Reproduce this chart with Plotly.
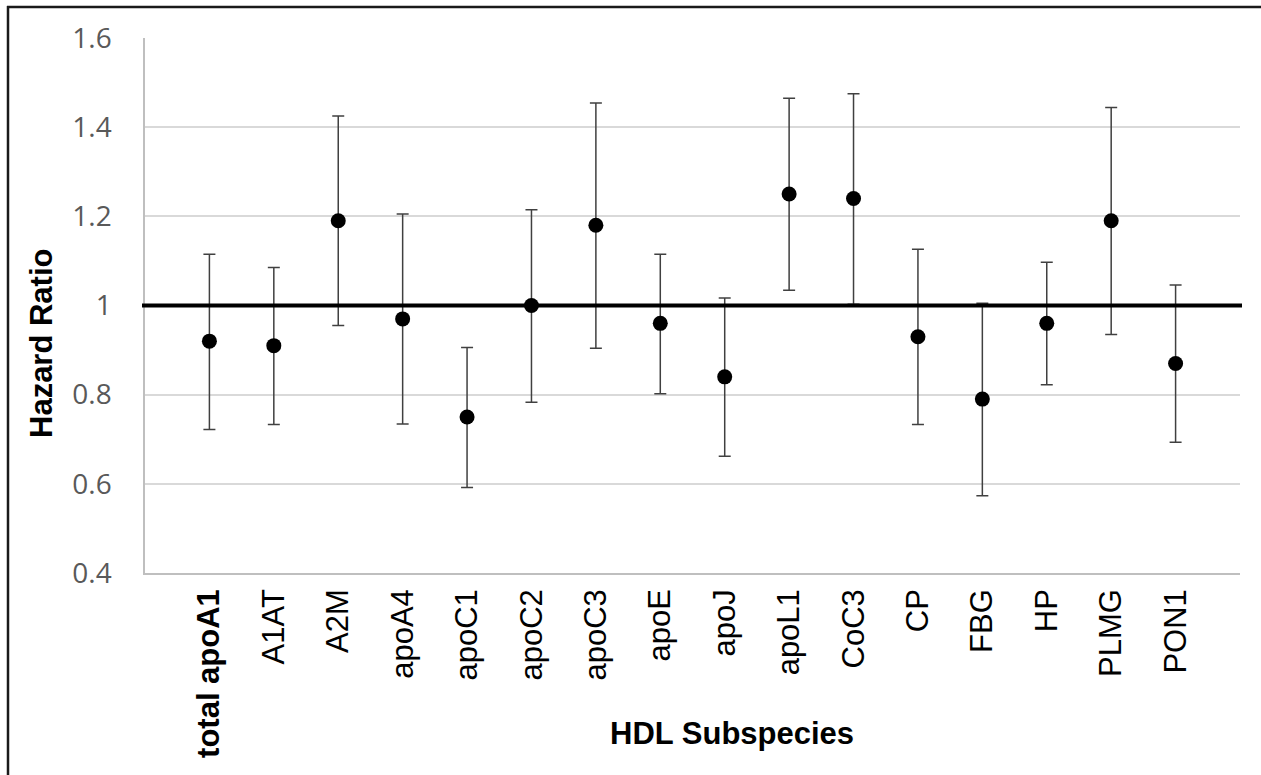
import plotly.graph_objects as go

categories = ["total apoA1", "A1AT", "A2M", "apoA4", "apoC1", "apoC2", "apoC3", "apoE",
              "apoJ", "apoL1", "CoC3", "CP", "FBG", "HP", "PLMG", "PON1"]
hazard_ratio = [0.92, 0.91, 1.19, 0.97, 0.75, 1.00, 1.18, 0.96,
                0.84, 1.25, 1.24, 0.93, 0.79, 0.96, 1.19, 0.87]
ci_upper = [1.115, 1.085, 1.425, 1.205, 0.906, 1.215, 1.454, 1.115,
            1.017, 1.465, 1.475, 1.126, 1.005, 1.097, 1.444, 1.046]
ci_lower = [0.722, 0.733, 0.955, 0.734, 0.592, 0.783, 0.904, 0.802,
            0.662, 1.034, 1.003, 0.733, 0.573, 0.822, 0.935, 0.693]
bold_categories = ["total apoA1"]
reference_value = 1.0
y_ticks = [0.4, 0.6, 0.8, 1.0, 1.2, 1.4, 1.6]
y_tick_labels = ["0.4", "0.6", "0.8", "1", "1.2", "1.4", "1.6"]

err_plus = [u - h for u, h in zip(ci_upper, hazard_ratio)]
err_minus = [h - l for h, l in zip(hazard_ratio, ci_lower)]
tick_text = [f"<b>{c}</b>" if c in bold_categories else c for c in categories]

W, H = 1261, 775
L, R, T, B = 145, 21, 38, 202
pw, ph = W - L - R, H - T - B

def px_x(px):
    return (px - L) / pw

def px_y(py):
    return (H - B - py) / ph

fig = go.Figure()
fig.add_trace(go.Scatter(
    x=categories, y=hazard_ratio, mode="markers",
    marker=dict(color="black", size=15),
    error_y=dict(type="data", symmetric=False, array=err_plus, arrayminus=err_minus,
                 color="#404040", thickness=1.5, width=6),
    showlegend=False,
))

fig.add_shape(type="line", xref="paper", yref="y", x0=px_x(142), x1=px_x(1242),
              y0=reference_value, y1=reference_value,
              line=dict(color="black", width=4), layer="above")

# outer border (top and left edges visible)
fig.add_shape(type="line", xref="paper", yref="paper", x0=px_x(7), x1=px_x(1270),
              y0=px_y(7), y1=px_y(7), line=dict(color="#1a1a1a", width=2.5))
fig.add_shape(type="line", xref="paper", yref="paper", x0=px_x(8), x1=px_x(8),
              y0=px_y(6), y1=px_y(790), line=dict(color="#1a1a1a", width=2.5))

fig.add_annotation(text="<b>Hazard Ratio</b>", xref="paper", yref="paper",
                   x=px_x(41), y=px_y(344), xanchor="center", yanchor="middle",
                   textangle=-90, showarrow=False,
                   font=dict(family="Liberation Sans, Arial", size=31, color="black"))
fig.add_annotation(text="<b>HDL Subspecies</b>", xref="paper", yref="paper",
                   x=px_x(732), y=px_y(733), xanchor="center", yanchor="middle",
                   showarrow=False,
                   font=dict(family="Liberation Sans, Arial", size=31, color="black"))

fig.update_layout(
    width=W, height=H,
    margin=dict(l=L, r=R, t=T, b=B),
    paper_bgcolor="white", plot_bgcolor="white",
    xaxis=dict(type="category", range=[-1, 16], tickmode="array",
               tickvals=categories, ticktext=tick_text, tickangle=-90,
               showgrid=False, showline=True, linecolor="#bfbfbf", linewidth=1.5,
               ticks="", ticklabelstandoff=2,
               tickfont=dict(family="Liberation Sans, Arial", size=31, color="black")),
    yaxis=dict(range=[0.4, 1.6], tickmode="array", tickvals=y_ticks, ticktext=y_tick_labels,
               showgrid=True, gridcolor="#d9d9d9", gridwidth=1.5,
               showline=True, linecolor="#bfbfbf", linewidth=1.5,
               zeroline=False, ticks="", ticklabelstandoff=26,
               tickfont=dict(family="Open Sans", size=28, color="#595959")),
)

fig.write_html("out.html", config={"displayModeBar": False},
               post_script="document.body.style.margin='0px';")
